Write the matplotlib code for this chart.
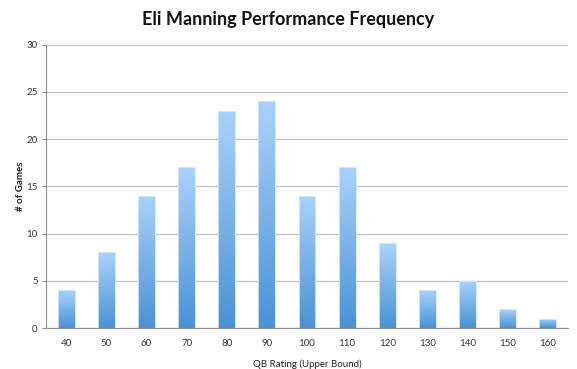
import matplotlib
matplotlib.use("Agg")
import matplotlib.pyplot as plt
import numpy as np
from matplotlib.colors import LinearSegmentedColormap

categories = ["40", "50", "60", "70", "80", "90", "100", "110", "120", "130", "140", "150", "160"]
games = [4, 8, 14, 17, 23, 24, 14, 17, 9, 4, 5, 2, 1]
yticks = [0, 5, 10, 15, 20, 25, 30]

plt.rcParams['font.family'] = ['Lato', 'DejaVu Sans']

fig = plt.figure(figsize=(5.77, 3.69), dpi=100)
ax = fig.add_axes([46/577, 1-328/369, (568-46)/577, (328-44.7)/369])

x = np.arange(len(categories))
bars = ax.bar(x, games, width=0.42, color='none', edgecolor='#d6e8fa', linewidth=0.6, zorder=3)
cmap = LinearSegmentedColormap.from_list('g', ['#4a92d4', '#abd2fa'])
grad = np.linspace(0, 1, 256).reshape(-1, 1)
for b in bars:
    bx, by, bw, bh = b.get_x(), b.get_y(), b.get_width(), b.get_height()
    im = ax.imshow(grad, cmap=cmap, origin='lower', aspect='auto',
                   extent=[bx, bx + bw, by, by + bh], zorder=2)
    im.set_clip_path(b)

ax.set_xlim(-0.5, len(categories) - 0.5)
ax.set_ylim(0, 30)
ax.set_yticks(yticks)
ax.set_xticks(x)
ax.set_xticklabels(categories)
ax.yaxis.grid(True, color='#c4c4c4', linewidth=1.0, zorder=0)
ax.set_axisbelow(True)
for s in ['top', 'right']:
    ax.spines[s].set_visible(False)
ax.spines['left'].set_color('#8c8c8c')
ax.spines['bottom'].set_color('#8c8c8c')
ax.tick_params(axis='y', length=3, color='#8c8c8c', labelsize=7, labelcolor='#333333', pad=3)
ax.tick_params(axis='x', length=0, labelsize=7, labelcolor='#333333', pad=8)

ax.set_xlabel('QB Rating (Upper Bound)', fontsize=7, color='#222222', labelpad=8)
ax.set_ylabel('# of Games', fontsize=7, fontweight='bold', color='#222222', labelpad=1)
fig.text(0.5, 1 - 20/369, 'Eli Manning Performance Frequency', ha='center', va='center',
         fontsize=13, fontweight='bold', color='#111111')

fig.savefig('out.png', dpi=100)
